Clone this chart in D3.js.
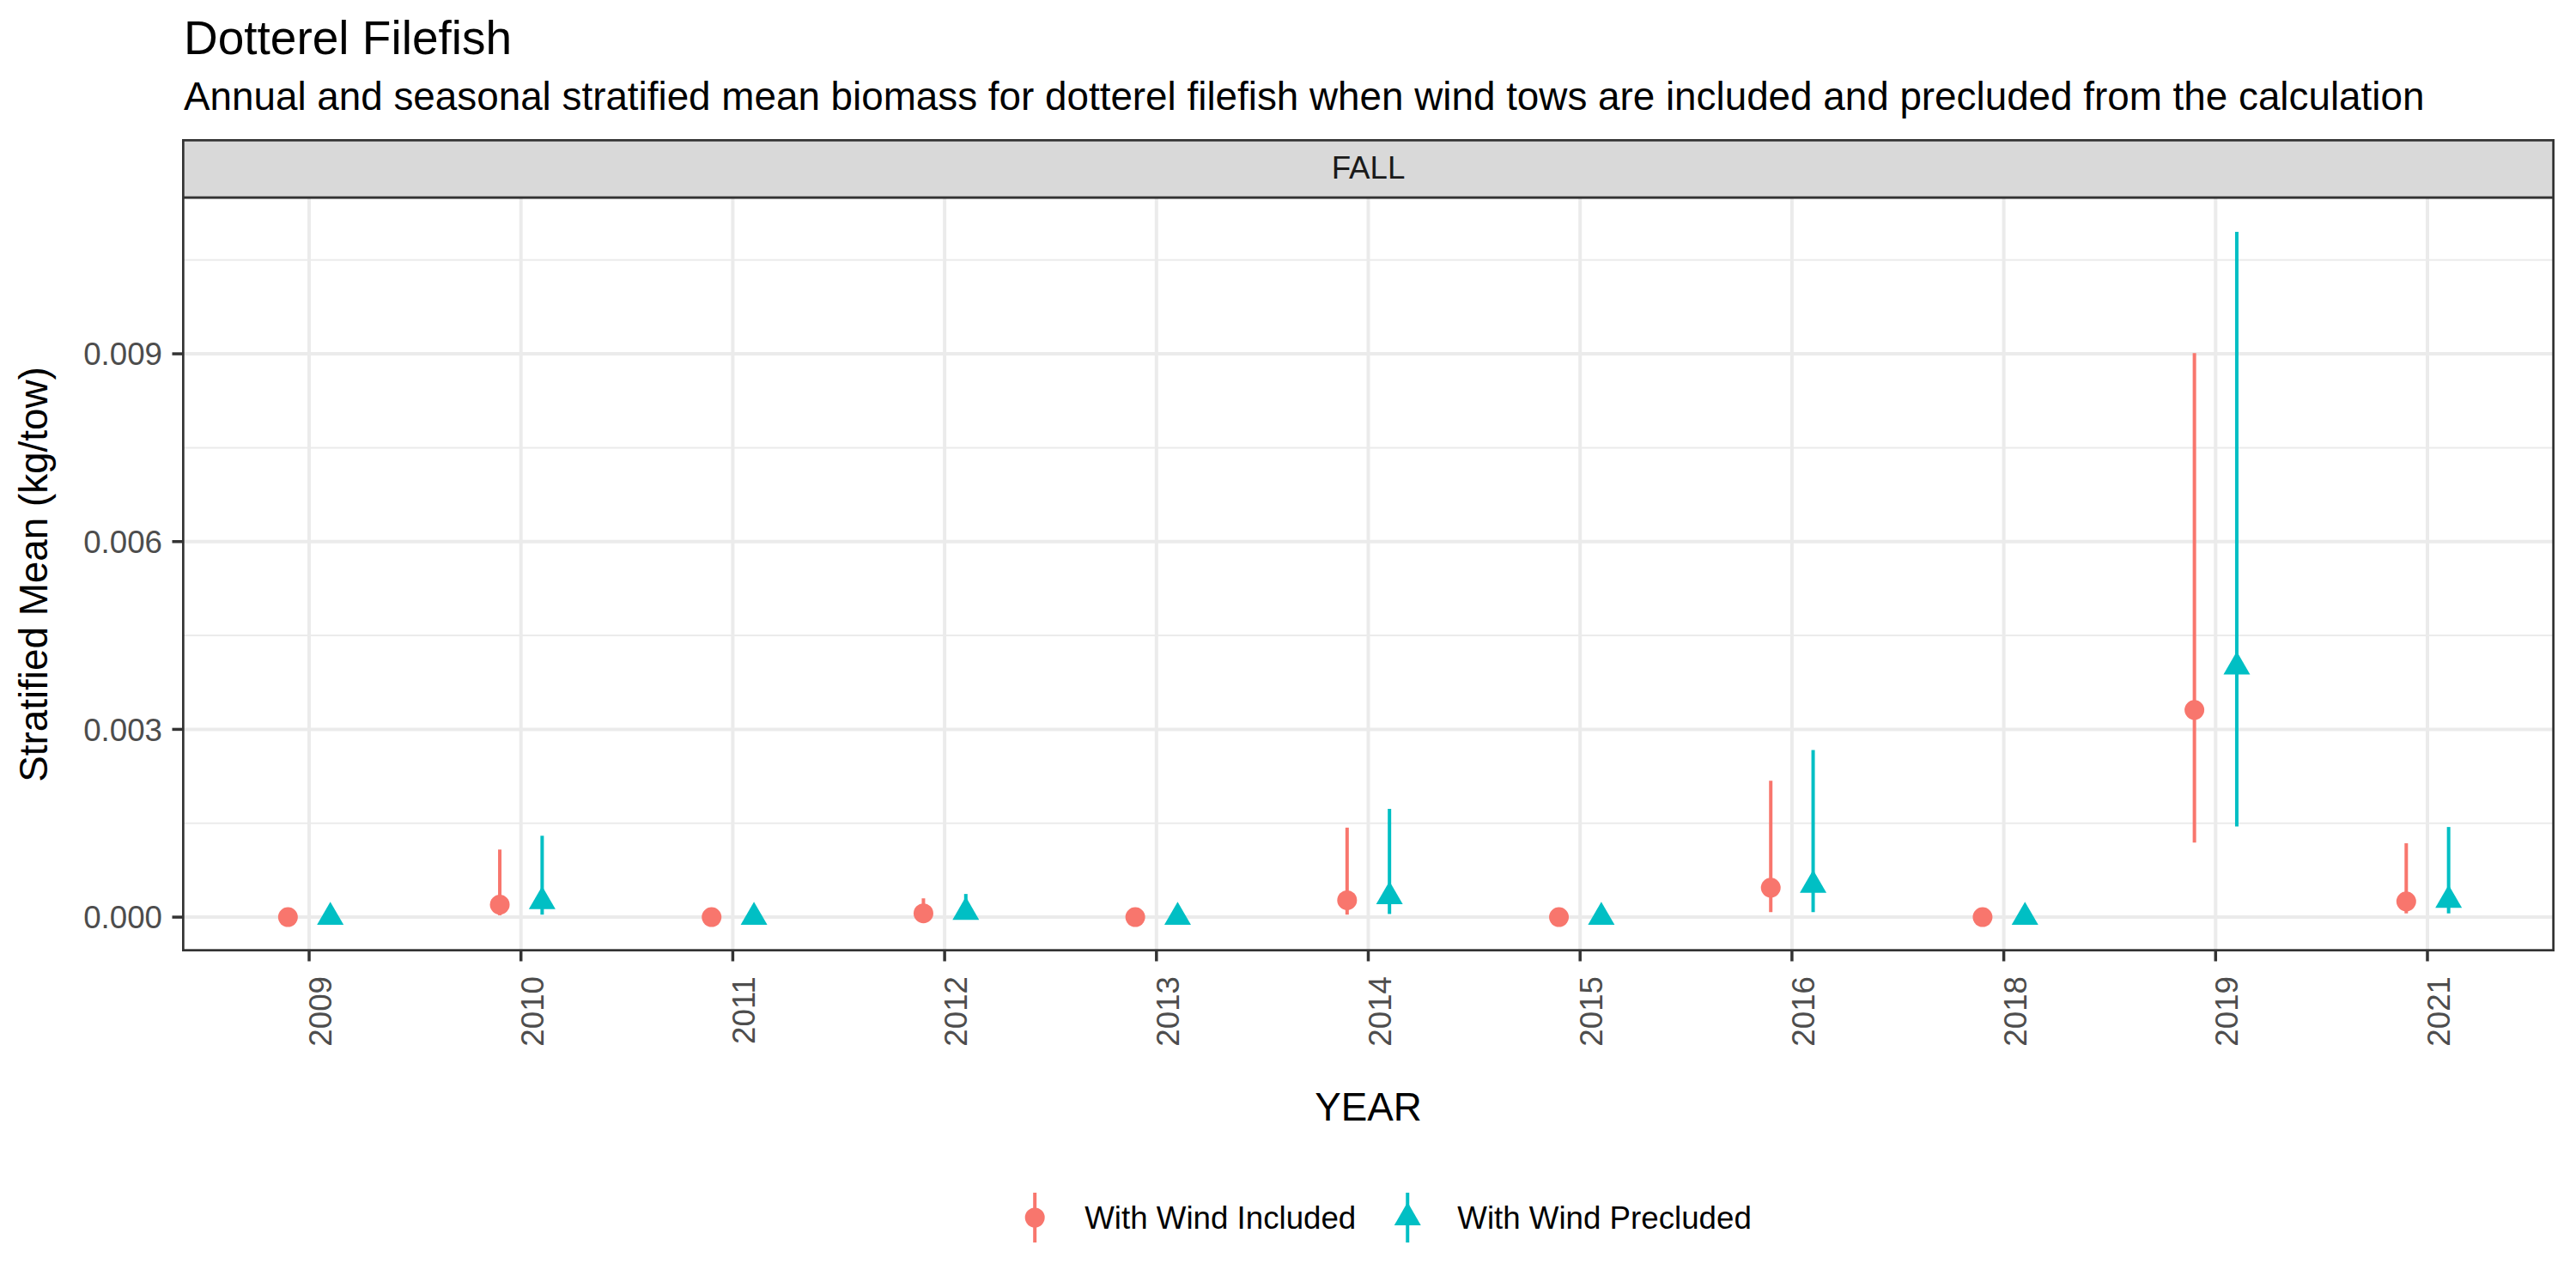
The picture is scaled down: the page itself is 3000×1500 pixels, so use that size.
<!DOCTYPE html>
<html>
<head>
<meta charset="utf-8">
<script src="https://cdn.jsdelivr.net/npm/d3@7"></script>
<style>
  body { margin: 0; background: #fff; }
  text { font-family: "Liberation Sans", Arial, sans-serif; }
</style>
</head>
<body>
<script>
// values
var years = ['2009','2010','2011','2012','2013','2014','2015','2016','2018','2019','2021'];
var includedMean  = [0, 0.00020, 0, 0.00006, 0, 0.00027, 0, 0.00047, 0, 0.00331, 0.00025];
var includedLower = [0, 0.00003, 0, 0.00002, 0, 0.00004, 0, 0.00008, 0, 0.00119, 0.00006];
var includedUpper = [0, 0.00108, 0, 0.00030, 0, 0.00143, 0, 0.00218, 0, 0.00901, 0.00118];
var precludedMean  = [0, 0.00025, 0, 0.00008, 0, 0.00033, 0, 0.00051, 0, 0.00400, 0.00027];
var precludedLower = [0, 0.00004, 0, 0.00002, 0, 0.00005, 0, 0.00008, 0, 0.00145, 0.00006];
var precludedUpper = [0, 0.00130, 0, 0.00037, 0, 0.00173, 0, 0.00267, 0, 0.01095, 0.00144];
var yTicks = [0, 0.003, 0.006, 0.009];
var yMinor = [0.0015, 0.0045, 0.0075, 0.0105];
var seriesNames = ['With Wind Included', 'With Wind Precluded'];
var colors = ['#F8766D', '#00BFC4'];

var W = 3000, H = 1500;
var pLeft = 212, pRight = 2975, pTop = 230, pBottom = 1108;
var stripTop = 162;

var svg = d3.select('body').append('svg')
  .attr('width', W)
  .attr('height', H);

svg.append('rect').attr('width', W).attr('height', H).attr('fill', '#fff');

// build rows for each series
var series = [
  years.map(function(y, i){ return {year: y, mean: includedMean[i], lo: includedLower[i], hi: includedUpper[i], s: 0}; }),
  years.map(function(y, i){ return {year: y, mean: precludedMean[i], lo: precludedLower[i], hi: precludedUpper[i], s: 1}; })
];
var all = series[0].concat(series[1]);

var x = d3.scalePoint().domain(years).range([pLeft, pRight]).padding(0.6);
var dodge = x.step() * 0.1;

var yMax = d3.max(all, function(d){ return d.hi; });
var yMinV = d3.min(all, function(d){ return d.lo; });
var pad = (yMax - yMinV) * 0.05;
var y = d3.scaleLinear().domain([yMinV - pad, yMax + pad]).range([pBottom, pTop]);

// grid
var grid = svg.append('g');
grid.selectAll('.minor').data(yMinor).enter().append('line')
  .attr('x1', pLeft).attr('x2', pRight)
  .attr('y1', function(d){ return y(d); }).attr('y2', function(d){ return y(d); })
  .attr('stroke', '#EBEBEB').attr('stroke-width', 2);
grid.selectAll('.majorY').data(yTicks).enter().append('line')
  .attr('x1', pLeft).attr('x2', pRight)
  .attr('y1', function(d){ return y(d); }).attr('y2', function(d){ return y(d); })
  .attr('stroke', '#EBEBEB').attr('stroke-width', 4);
grid.selectAll('.majorX').data(years).enter().append('line')
  .attr('y1', pTop).attr('y2', pBottom)
  .attr('x1', function(d){ return x(d); }).attr('x2', function(d){ return x(d); })
  .attr('stroke', '#EBEBEB').attr('stroke-width', 4);

// triangle like R pch 17, centred on centroid
var triR = 17.9;
function triangle(cx, cy){
  var hx = triR * Math.sqrt(3) / 2;
  return 'M' + cx + ',' + (cy - triR) + 'L' + (cx + hx) + ',' + (cy + triR / 2) + 'L' + (cx - hx) + ',' + (cy + triR / 2) + 'Z';
}

// error bars + points
series.forEach(function(rows, si){
  var off = si === 0 ? -dodge : dodge;
  var g = svg.append('g');
  g.selectAll('line').data(rows).enter().append('line')
    .attr('x1', function(d){ return x(d.year) + off; })
    .attr('x2', function(d){ return x(d.year) + off; })
    .attr('y1', function(d){ return y(d.lo); })
    .attr('y2', function(d){ return y(d.hi); })
    .attr('stroke', colors[si]).attr('stroke-width', 4);
  if (si === 0) {
    g.selectAll('circle').data(rows).enter().append('circle')
      .attr('cx', function(d){ return x(d.year) + off; })
      .attr('cy', function(d){ return y(d.mean); })
      .attr('r', 11.5)
      .attr('fill', colors[si]);
  } else {
    g.selectAll('path').data(rows).enter().append('path')
      .attr('d', function(d){ return triangle(x(d.year) + off, y(d.mean)); })
      .attr('fill', colors[si]);
  }
});

// panel border
svg.append('rect')
  .attr('x', pLeft + 1.35).attr('y', pTop)
  .attr('width', pRight - pLeft - 2.7).attr('height', pBottom - pTop - 1.35)
  .attr('fill', 'none').attr('stroke', '#333333').attr('stroke-width', 2.7);

// strip
svg.append('rect')
  .attr('x', pLeft + 1.35).attr('y', stripTop + 1.35)
  .attr('width', pRight - pLeft - 2.7).attr('height', pTop - stripTop - 1.35)
  .attr('fill', '#D9D9D9').attr('stroke', '#333333').attr('stroke-width', 2.7);
svg.append('text')
  .attr('x', (pLeft + pRight) / 2).attr('y', 208)
  .attr('text-anchor', 'middle')
  .attr('font-size', 36.7).attr('fill', '#1A1A1A')
  .text('FALL');

// y axis
var yAxis = svg.append('g');
yAxis.selectAll('line').data(yTicks).enter().append('line')
  .attr('x1', pLeft - 11.5).attr('x2', pLeft)
  .attr('y1', function(d){ return y(d); }).attr('y2', function(d){ return y(d); })
  .attr('stroke', '#333333').attr('stroke-width', 3.5);
yAxis.selectAll('text').data(yTicks).enter().append('text')
  .attr('x', 189)
  .attr('y', function(d){ return y(d); })
  .attr('dy', '0.36em')
  .attr('text-anchor', 'end')
  .attr('font-size', 36.7).attr('fill', '#4D4D4D')
  .text(d3.format('.3f'));

// x axis
var xAxis = svg.append('g');
xAxis.selectAll('line').data(years).enter().append('line')
  .attr('x1', function(d){ return x(d); }).attr('x2', function(d){ return x(d); })
  .attr('y1', pBottom).attr('y2', pBottom + 11.5)
  .attr('stroke', '#333333').attr('stroke-width', 3.5);
xAxis.selectAll('text').data(years).enter().append('text')
  .attr('transform', function(d){ return 'translate(' + x(d) + ',1137) rotate(-90)'; })
  .attr('dy', 26)
  .attr('text-anchor', 'end')
  .attr('font-size', 36.7).attr('fill', '#4D4D4D')
  .text(function(d){ return d; });

// axis titles
svg.append('text')
  .attr('x', (pLeft + pRight) / 2).attr('y', 1305)
  .attr('text-anchor', 'middle')
  .attr('font-size', 45.8).attr('fill', '#000')
  .text('YEAR');
svg.append('text')
  .attr('transform', 'translate(55,' + ((pTop + pBottom) / 2) + ') rotate(-90)')
  .attr('text-anchor', 'middle')
  .attr('font-size', 45.8).attr('fill', '#000')
  .text('Stratified Mean (kg/tow)');

// titles
svg.append('text')
  .attr('x', 214).attr('y', 63)
  .attr('font-size', 55).attr('fill', '#000')
  .text('Dotterel Filefish');
svg.append('text')
  .attr('x', 214).attr('y', 128)
  .attr('font-size', 45.8).attr('fill', '#000')
  .text('Annual and seasonal stratified mean biomass for dotterel filefish when wind tows are included and precluded from the calculation');

// legend
var legend = svg.append('g');
var keyW = 58, keyGap = 32, itemGap = 31, legY = 1418;
var cursor = 0;
seriesNames.forEach(function(name, i){
  var g = legend.append('g');
  var kx = cursor + keyW / 2;
  g.append('line')
    .attr('x1', kx).attr('x2', kx)
    .attr('y1', legY - 29).attr('y2', legY + 29)
    .attr('stroke', colors[i]).attr('stroke-width', 4);
  if (i === 0) {
    g.append('circle').attr('cx', kx).attr('cy', legY).attr('r', 11.5).attr('fill', colors[i]);
  } else {
    g.append('path').attr('d', triangle(kx, legY)).attr('fill', colors[i]);
  }
  var t = g.append('text')
    .attr('x', cursor + keyW + keyGap - 3)
    .attr('y', legY).attr('dy', '0.36em')
    .attr('font-size', 36.7).attr('fill', '#000')
    .text(name);
  cursor += keyW + keyGap - 3 + t.node().getComputedTextLength() + itemGap;
});
var legWidth = cursor - itemGap;
legend.attr('transform', 'translate(' + (1608 - legWidth / 2) + ',0)');
</script>
</body>
</html>
